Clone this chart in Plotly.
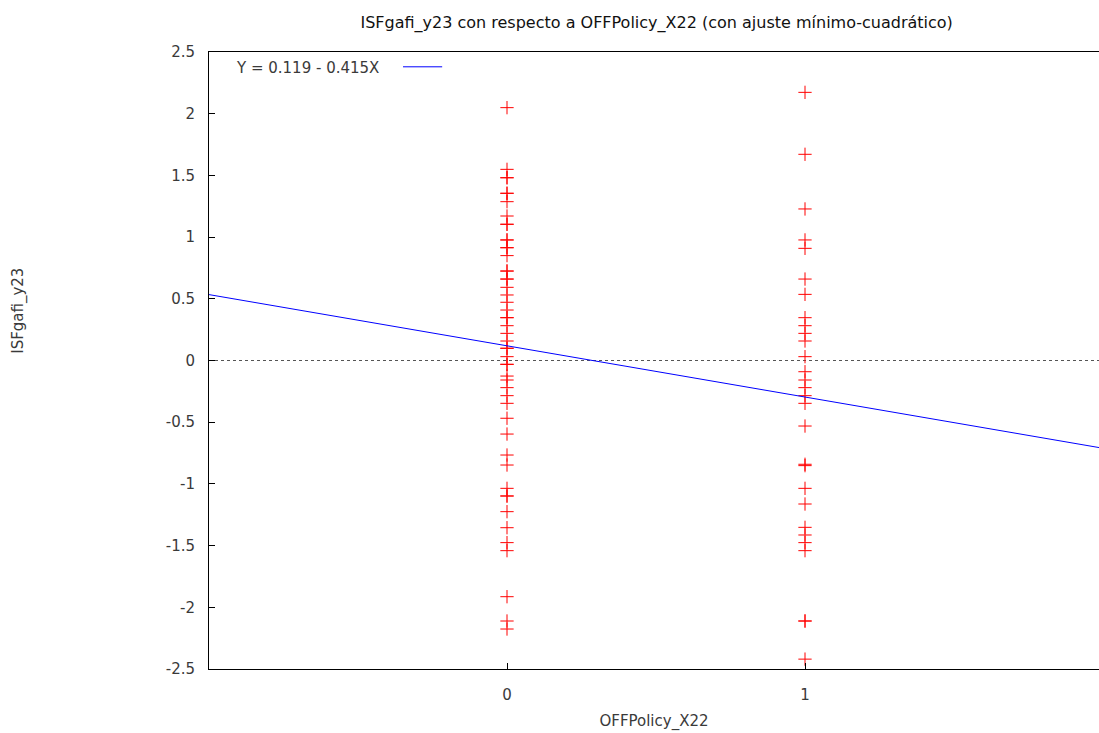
import plotly.graph_objects as go

# Data
x0_values = [2.049, 1.549, 1.481, 1.481, 1.355, 1.355, 1.287, 1.171, 1.104, 1.104,
             0.977, 0.977, 0.914, 0.914, 0.850, 0.725, 0.725, 0.660, 0.660, 0.593,
             0.531, 0.472, 0.409, 0.347, 0.347, 0.282, 0.220, 0.158, 0.099, 0.099,
             0.031, -0.031, -0.031, -0.126, -0.158, -0.220, -0.285, -0.347, -0.468,
             -0.596, -0.766, -0.847, -1.036, -1.098, -1.098, -1.225, -1.355, -1.476,
             -1.541, -1.914, -2.111, -2.176]
x1_values = [2.173, 1.671, 1.228, 0.977, 0.909, 0.660, 0.536, 0.347, 0.282, 0.220,
             0.158, 0.031, -0.091, -0.158, -0.220, -0.285, -0.347, -0.531, -0.841,
             -0.852, -1.036, -1.163, -1.352, -1.414, -1.476, -1.541, -2.111, -2.111,
             -2.420]
intercept = 0.119
slope = -0.415
x_range = [-1, 1.9866]   # right frame edge falls just outside the window in the reference
y_range = [-2.5, 2.5]
y_ticks = [-2.5, -2, -1.5, -1, -0.5, 0, 0.5, 1, 1.5, 2, 2.5]
y_ticktext = ["-2.5", "-2", "-1.5", "-1", "-0.5", "0", "0.5", "1", "1.5", "2", "2.5"]
x_ticks = [0, 1]

FONT = "DejaVu Sans"
TXT = "#3a3a3a"
FS = 15

xs = [0] * len(x0_values) + [1] * len(x1_values)
ys = x0_values + x1_values

fig = go.Figure()
fig.add_trace(go.Scatter(
    x=xs, y=ys, mode="markers",
    marker=dict(symbol="cross-thin-open", size=9.5, color="red",
                line=dict(color="red", width=1)),
    showlegend=False, hoverinfo="skip"))
fig.add_trace(go.Scatter(
    x=x_range, y=[intercept + slope * v for v in x_range], mode="lines",
    line=dict(color="blue", width=1), showlegend=False, hoverinfo="skip"))

# dotted zero line
fig.add_shape(type="line", xref="paper", x0=0, x1=1, yref="y", y0=0, y1=0,
              line=dict(color="#555555", width=1, dash="dot"), layer="below")

# legend-like key
fig.add_annotation(xref="paper", yref="paper", x=0.028, y=0.974,
                   text="Y = 0.119 - 0.415X", showarrow=False,
                   xanchor="left", yanchor="middle",
                   font=dict(family=FONT, size=FS, color=TXT))
fig.add_shape(type="line", xref="paper", yref="paper", x0=0.218, x1=0.262,
              y0=0.976, y1=0.976, line=dict(color="blue", width=1))

# y-axis title (placed above axis centre like the reference)
fig.add_annotation(xref="paper", yref="paper", x=-0.215, y=0.58,
                   text="ISFgafi_y23", showarrow=False, textangle=-90,
                   xanchor="center", yanchor="middle",
                   font=dict(family=FONT, size=FS, color=TXT))

fig.update_layout(
    width=1099, height=733,
    margin=dict(l=209, r=0, t=52, b=64),
    paper_bgcolor="white", plot_bgcolor="white",
    font=dict(family=FONT, size=FS, color=TXT),
    title=dict(text="ISFgafi_y23 con respecto a OFFPolicy_X22 (con ajuste mínimo-cuadrático)",
               x=0.5975, xanchor="center", y=0.97, yanchor="middle",
               font=dict(family=FONT, size=16, color="#111111")),
    xaxis=dict(range=x_range, tickvals=x_ticks, ticktext=["0", "1"],
               showgrid=False, zeroline=False, showline=True, linecolor="black",
               linewidth=1, mirror=True, ticks="inside", ticklen=6,
               tickcolor="black", ticklabelstandoff=12,
               title=dict(text="OFFPolicy_X22", standoff=12,
                          font=dict(family=FONT, size=FS, color=TXT))),
    yaxis=dict(range=y_range, tickvals=y_ticks, ticktext=y_ticktext,
               showgrid=False, zeroline=False, showline=True, linecolor="black",
               linewidth=1, mirror=False, ticks="inside", ticklen=6,
               tickcolor="black", ticklabelstandoff=10),
)

fig.write_html("out.html")
